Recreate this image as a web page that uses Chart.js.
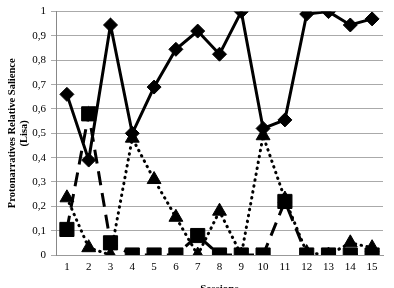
<!DOCTYPE html>
<html><head><meta charset="utf-8">
<script src="https://cdn.jsdelivr.net/npm/chart.js@4/dist/chart.umd.min.js"></script>
<style>html,body{margin:0;padding:0;background:#fff;}#wrap{width:394px;height:288px;}</style>
</head><body><div id="wrap"><canvas id="c" width="394" height="288"></canvas></div>
<script>
const sessions = ['1','2','3','4','5','6','7','8','9','10','11','12','13','14','15'];
const diamondSeries = [0.66,0.39,0.945,0.50,0.69,0.845,0.92,0.825,1.0,0.52,0.555,0.99,1.0,0.945,0.97];
const triangleSeries = [0.235,0.03,0,0.48,0.31,0.155,0,0.18,0,0.49,0.23,0.01,0,0.05,0.03];
const squareSeries = [0.105,0.58,0.05,0,0,0,0.08,0,0,0,0.22,0,0,0,0];
const yTicks = [0,0.1,0.2,0.3,0.4,0.5,0.6,0.7,0.8,0.9,1];

const serif = '"Liberation Serif","DejaVu Serif",serif';
new Chart(document.getElementById('c'), {
  type: 'line',
  data: {
    labels: sessions,
    datasets: [
      {data: diamondSeries, borderColor:'#000', backgroundColor:'#000', borderWidth:3,
       pointStyle:'rectRot', pointRadius:7, pointBorderWidth:1, tension:0, order:3},
      {data: triangleSeries, borderColor:'#000', backgroundColor:'#000', borderWidth:3,
       borderDash:[0.5,5.5], borderCapStyle:'round',
       pointStyle:'triangle', pointRadius:8, pointBorderWidth:1, tension:0, order:2},
      {data: squareSeries, borderColor:'#000', backgroundColor:'#000', borderWidth:3,
       borderDash:[14,8],
       pointStyle:'rect', pointRadius:10, pointBorderWidth:1, tension:0, order:1}
    ]
  },
  options: {
    responsive:false, animation:false,
    layout:{padding:{top:11,right:1,left:0,bottom:0}},
    plugins:{legend:{display:false}, tooltip:{enabled:false}},
    scales:{
      x:{offset:true,
         grid:{display:false, drawTicks:false},
         border:{display:true,color:'#999',width:1},
         ticks:{color:'#000',font:{family:serif,size:11},padding:6, maxRotation:0, autoSkip:false},
         title:{display:true,text:'Sessions',color:'#000',font:{family:serif,size:11,weight:'bold'},padding:{top:2,bottom:-8}},
         afterFit(s){s.height=33;}
      },
      y:{min:0,max:1,
         afterBuildTicks(s){s.ticks = yTicks.map(v=>({value:v}));},
         grid:{color:'#aaa',lineWidth:1,tickLength:5,drawTicks:true},
         border:{display:true,color:'#888',width:1},
         ticks:{color:'#000',font:{family:serif,size:11},padding:5,
           callback:(v)=> (v===0||v===1)? String(v) : String(v.toFixed(1)).replace('.',',')},
         title:{display:true,text:['Protonarratives Relative Salience','(Lisa)'],color:'#000',
           font:{family:serif,size:10.5,weight:'bold',lineHeight:1.15},padding:{top:6,bottom:3}},
         afterFit(s){s.width=56;}
      }
    }
  }
});
</script></body></html>
